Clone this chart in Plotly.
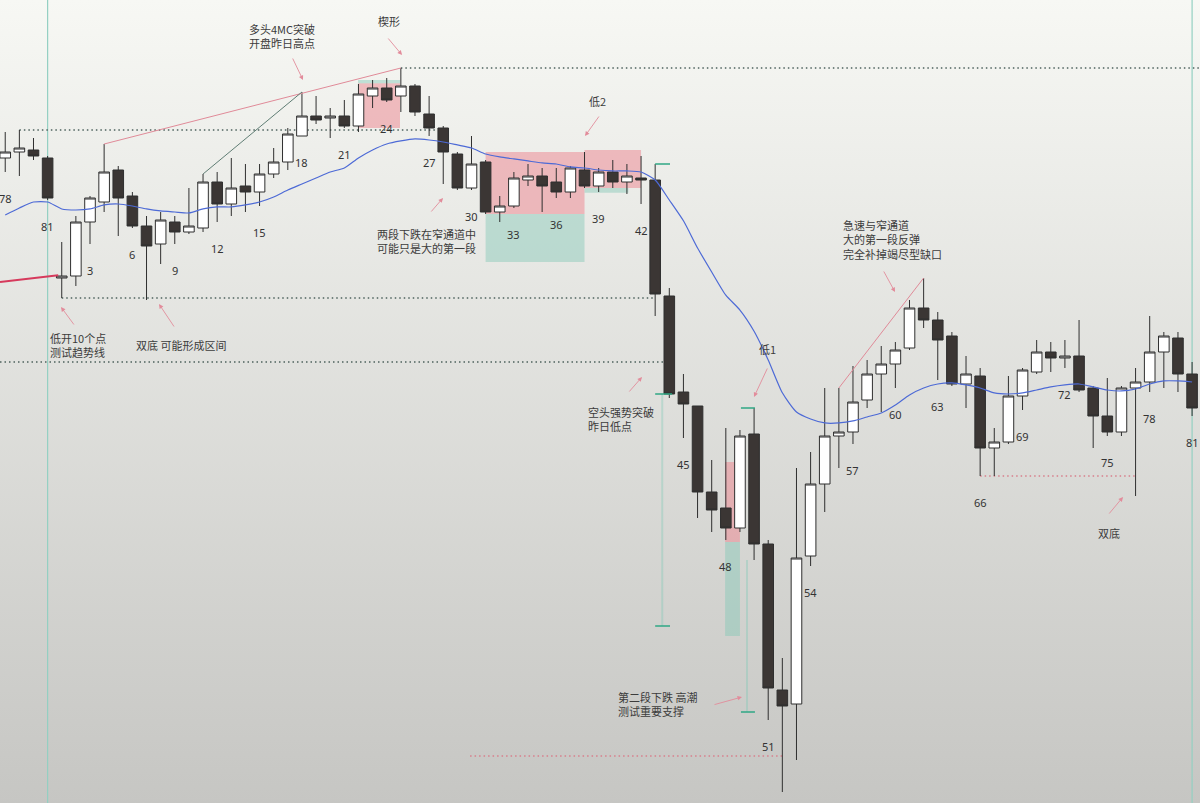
import base64
import plotly.graph_objects as go

# ---------------- data ----------------
bar_index = list(range(-3, 82))  # -3..0 = previous session bars 78..81, 1..81 = today

open_ = [4080.25, 4081, 4081.25, 4080.25,
         4065.25, 4065.5, 4072.25, 4074.75, 4078.75, 4075.5, 4071.75, 4069.5, 4072.25, 4071,
         4071.5, 4077.25, 4074.5, 4076.75, 4076, 4078.25, 4079.75, 4083, 4085.5, 4085.25,
         4085.5, 4084.25, 4088, 4089, 4088, 4089.25, 4085.75, 4084, 4080.75, 4076.5,
         4079.75, 4073.5, 4074.25, 4077.5, 4078, 4077.25, 4076, 4078.75, 4076.75, 4078.5,
         4077.25, 4077.75, 4077.5, 4063, 4051, 4049.25, 4038.5, 4036.5, 4034, 4045.75,
         4032, 4013.75, 4012, 4030.5, 4039.5, 4045.5, 4046, 4050, 4053.25, 4054.5,
         4056.5, 4061.5, 4060, 4058, 4052, 4053, 4044, 4044.75, 4050.5, 4053.5,
         4056, 4055.25, 4055.5, 4051.5, 4048, 4046, 4051.5, 4052.25, 4056, 4057.75, 4053.25]

high = [4083.5, 4083.75, 4082.75, 4080.5,
        4069.75, 4073, 4075.5, 4082, 4079.25, 4076, 4073, 4073.5, 4073, 4076.5,
        4078.25, 4078.5, 4080.25, 4079.5, 4079.5, 4081.5, 4084, 4088.5, 4088, 4086.5,
        4087.5, 4089.5, 4090, 4090.25, 4091.5, 4089.5, 4088, 4084.25, 4081, 4083,
        4080, 4075.5, 4078.5, 4079.5, 4079, 4079, 4079.25, 4081, 4079, 4080,
        4079.5, 4080.5, 4079.5, 4064, 4053.25, 4049.25, 4042.5, 4046.5, 4046.25, 4049,
        4032.5, 4017.75, 4041.5, 4043.5, 4051.5, 4051.5, 4054.25, 4055, 4056.75, 4057.25,
        4062.5, 4065.25, 4061, 4058.5, 4055.5, 4054, 4046.5, 4053, 4054, 4057.5,
        4057.25, 4057.5, 4060, 4051.75, 4052.75, 4051.75, 4054, 4060.5, 4058.5, 4058.5, 4054.75]

low = [4078.5, 4078, 4080, 4075,
       4062.75, 4064.25, 4069.5, 4073.5, 4070.5, 4071.5, 4062.5, 4067, 4069.5, 4070.75,
       4071, 4072.25, 4073, 4073.5, 4074.25, 4077.75, 4078.75, 4083, 4084.5, 4082.75,
       4084, 4083.5, 4086.5, 4087.25, 4086, 4085.5, 4083, 4077, 4076.25, 4076.25,
       4073.25, 4072.25, 4074, 4076.75, 4073.5, 4075.25, 4075.25, 4076.5, 4076, 4076.5,
       4075.75, 4074.5, 4060.5, 4050.25, 4045.25, 4035.25, 4033.5, 4032.5, 4033.5, 4030,
       4010, 4001, 4005, 4029.25, 4036, 4041.5, 4044.5, 4049, 4048.5, 4051.5,
       4056.25, 4059, 4052.5, 4051.75, 4049, 4040.5, 4040.5, 4044.5, 4048.75, 4053.25,
       4053.5, 4054, 4051, 4044, 4045.5, 4045.5, 4038, 4051, 4051.5, 4051, 4048]

close = [4081, 4081.5, 4080.5, 4075.25,
         4065.5, 4072.25, 4075.25, 4078.5, 4075.25, 4071.75, 4069.25, 4072.5, 4071, 4071.75,
         4077.25, 4074.5, 4076.5, 4076, 4078.25, 4079.75, 4083.25, 4085.5, 4085, 4085.5,
         4084.25, 4088.25, 4089, 4087.5, 4089.25, 4086, 4084, 4081, 4076.5, 4079.5,
         4073.5, 4074.25, 4077.75, 4078, 4076.75, 4076, 4079, 4076.75, 4078.5, 4077.25,
         4078, 4077.5, 4063.25, 4050.75, 4049.5, 4038.5, 4036.25, 4034, 4045.5, 4032,
         4014, 4011.75, 4030.25, 4039.5, 4045.5, 4046, 4049.75, 4053.25, 4054.5, 4056.25,
         4061.5, 4060, 4057.5, 4052, 4053.25, 4044, 4044.75, 4050.5, 4053.75, 4056,
         4055.25, 4055.5, 4051.25, 4048, 4046, 4051.5, 4052.25, 4056, 4058, 4053.25, 4049]

ema20 = [4073.13, 4074.0, 4074.75, 4074.75,
         4073.88, 4073.75, 4073.88, 4074.38, 4074.5, 4074.25, 4073.88, 4073.63, 4073.5, 4073.38,
         4073.88, 4074.13, 4074.13, 4074.38, 4074.75, 4075.38, 4076.25, 4077.0, 4077.75, 4078.5,
         4079.0, 4080.25, 4081.25, 4082.0, 4082.38, 4082.63, 4082.5, 4082.25, 4081.88, 4081.5,
         4080.75, 4080.38, 4080.13, 4079.88, 4079.63, 4079.5, 4079.13, 4079.0, 4078.75, 4078.63,
         4078.63, 4078.5, 4077.5, 4075.0, 4072.4, 4069.0, 4066.0, 4063.1, 4061.25, 4058.6,
         4055.0, 4050.9, 4048.5, 4047.63, 4047.13, 4047.13, 4047.38, 4047.88, 4048.38, 4049.38,
         4050.63, 4051.5, 4052.0, 4052.13, 4051.88, 4051.5, 4050.88, 4050.75, 4050.88, 4051.25,
         4051.63, 4051.88, 4052.0, 4051.63, 4051.25, 4051.13, 4051.38, 4052.0, 4052.38, 4052.38, 4052.25]

# key price levels
prev_high_level = 4083.75
wedge_top_level = 4091.5
open_low_level = 4062.75
prev_low_level = 4054.75
support_level = 4005.5
double_bottom_level = 4040.5

# ---------------- figure ----------------
W, H = 1200, 803
X_RANGE = [-3.37, 81.56]
Y_RANGE = [4100 - H / 8, 4100]

fig = go.Figure()

fig.add_trace(go.Candlestick(
    x=bar_index, open=open_, high=high, low=low, close=close,
    increasing=dict(line=dict(color="#2f2f2f", width=1), fillcolor="#ffffff"),
    decreasing=dict(line=dict(color="#2f2f2f", width=1), fillcolor="#3b3634"),
    whiskerwidth=0, hoverinfo="skip", showlegend=False,
))

fig.add_trace(go.Scatter(
    x=bar_index, y=ema20, mode="lines",
    line=dict(color="#4d6ad6", width=1.2, shape="spline", smoothing=0.6),
    hoverinfo="skip", showlegend=False,
))

shapes = []
DOT = "1.5px,3px"

def hline(y, x0, x1, color="#4d625d"):
    shapes.append(dict(type="line", xref="x", yref="y", x0=x0, x1=x1, y0=y, y1=y,
                       line=dict(color=color, width=1.5, dash=DOT), layer="below"))

def rect(x0, x1, y0, y1, color):
    shapes.append(dict(type="rect", xref="x", yref="y", x0=x0, x1=x1, y0=y0, y1=y1,
                       fillcolor=color, line=dict(width=0), layer="below"))

def seg(x0, y0, x1, y1, color, width=1, layer="above"):
    shapes.append(dict(type="line", xref="x", yref="y", x0=x0, y0=y0, x1=x1, y1=y1,
                       line=dict(color=color, width=width), layer=layer))

# session separators
for k in (0, 81):
    shapes.append(dict(type="line", xref="x", yref="paper", x0=k, x1=k, y0=0, y1=1,
                       line=dict(color="#93d0c2", width=1.2), layer="below"))

# dotted levels
hline(prev_high_level, -2, 27.6)
hline(wedge_top_level, 25, X_RANGE[1])
hline(open_low_level, 1, 43)
hline(prev_low_level, X_RANGE[0], 43.7)
hline(support_level, 29.9, 52, color="#d77f8c")
hline(double_bottom_level, 66, 77, color="#d77f8c")

PINK = "rgba(236,140,150,0.55)"
TEAL = "rgba(130,200,182,0.45)"
# boxes
rect(31, 38, 4073.25, 4081.0, PINK)
rect(31, 38, 4067.25, 4073.25, TEAL)
rect(38, 42, 4076.5, 4081.25, PINK)
rect(38, 41.1, 4075.9, 4076.5, TEAL)
rect(21.97, 24.94, 4084.0, 4089.6, PINK)
rect(21.97, 24.94, 4089.6, 4090.0, TEAL)
rect(47.95, 49.0, 4032.25, 4042.25, PINK)
rect(47.95, 49.0, 4020.5, 4032.25, TEAL)

# measured-move rulers
GREEN = "#2fa784"
FAINT = "rgba(120,200,180,0.35)"
seg(43, 4079.5, 44.05, 4079.5, GREEN, 1.5)
seg(43, 4050.75, 44.2, 4050.75, GREEN, 1.5)
seg(43, 4021.75, 44.05, 4021.75, GREEN, 1.5)
seg(43.5, 4050.75, 43.5, 4021.75, FAINT, 2, "below")
seg(49.07, 4049, 50.06, 4049, GREEN, 1.5)
seg(49.07, 4011, 50.06, 4011, GREEN, 1.5)
seg(49.5, 4030, 49.5, 4011, FAINT, 2, "below")

# trend lines
seg(4, 4082, 25, 4091.5, "#e08a98", 1)
seg(11, 4078.25, 18, 4088.5, "#5f7d74", 1)
seg(X_RANGE[0], 4064.75, 0.75, 4065.6, "#d63a5c", 2)
seg(56, 4051.5, 62, 4065.25, "#e08a98", 1)

annotations = []

def P(px, py):
    return px / W, 1 - py / H

TXT = dict(family="Noto Sans CJK SC, Noto Sans, sans-serif", size=11, color="#3c3c3c")

def text(s, px, py):
    x, y = P(px, py)
    annotations.append(dict(text=s, x=x, y=y, xref="paper", yref="paper", xanchor="left",
                            yanchor="middle", align="left", showarrow=False, font=TXT))

def arrow(hx, hy, tx, ty):
    x, y = P(hx, hy)
    annotations.append(dict(text="", x=x, y=y, xref="paper", yref="paper",
                            ax=tx - hx, ay=ty - hy, showarrow=True, arrowhead=2,
                            arrowsize=1, arrowwidth=0.9, arrowcolor="#e28c9b", standoff=0))

text("多头4MC突破<br>开盘昨日高点", 247, 36)
text("楔形", 376, 21)
text("低2", 587, 101)
text("两段下跌在窄通道中<br>可能只是大的第一段", 375, 241)
text("低开10个点<br>测试趋势线", 48, 345)
text("双底 可能形成区间", 134, 345)
text("空头强势突破<br>昨日低点", 586, 419)
text("低1", 757, 349)
text("急速与窄通道<br>大的第一段反弹<br>完全补掉竭尽型缺口", 841, 239)
text("双底", 1096, 533)
text("第二段下跌 高潮<br>测试重要支撑", 616, 704)

arrow(303, 80, 292, 57)
arrow(402, 55, 387, 37)
arrow(585, 136, 600, 115)
arrow(443, 198, 430, 213)
arrow(61, 307, 75, 326)
arrow(159, 304, 175, 328)
arrow(642, 377, 628, 393)
arrow(754, 397, 768, 367)
arrow(895, 292, 883, 270)
arrow(1123, 497, 1108, 515)
arrow(742, 697, 713, 705)

# bar numbers every 3 bars, below the low
for k, lo in zip(bar_index, low):
    n = 81 + k if k <= 0 else k
    if n % 3 == 0:
        annotations.append(dict(text=str(n), x=k, y=lo, xref="x", yref="y", yshift=-26,
                                showarrow=False, xanchor="center", yanchor="middle",
                                font=dict(family="Noto Sans, sans-serif", size=11, color="#333333")))

svg = ("<svg xmlns='http://www.w3.org/2000/svg' width='1200' height='803'>"
       "<defs><linearGradient id='g' x1='0' y1='0' x2='0' y2='1'>"
       "<stop offset='0' stop-color='#f7f8f4'/><stop offset='1' stop-color='#c6c6c3'/>"
       "</linearGradient></defs><rect width='1200' height='803' fill='url(#g)'/></svg>")
bg_src = "data:image/svg+xml;base64," + base64.b64encode(svg.encode()).decode()

fig.update_layout(
    width=W, height=H, margin=dict(l=0, r=0, t=0, b=0),
    paper_bgcolor="#e0e1dd", plot_bgcolor="rgba(0,0,0,0)",
    xaxis=dict(range=X_RANGE, visible=False, rangeslider=dict(visible=False), fixedrange=True),
    yaxis=dict(range=Y_RANGE, visible=False, fixedrange=True),
    boxgap=0.25, boxgroupgap=0.0,
    shapes=shapes, annotations=annotations,
    images=[dict(source=bg_src, xref="paper", yref="paper", x=0, y=1, sizex=1, sizey=1,
                 sizing="stretch", xanchor="left", yanchor="top", layer="below")],
    showlegend=False,
)

fig.write_html("out.html", config={"displayModeBar": False},
               post_script="document.body.style.margin='0';document.body.style.overflow='hidden';")
